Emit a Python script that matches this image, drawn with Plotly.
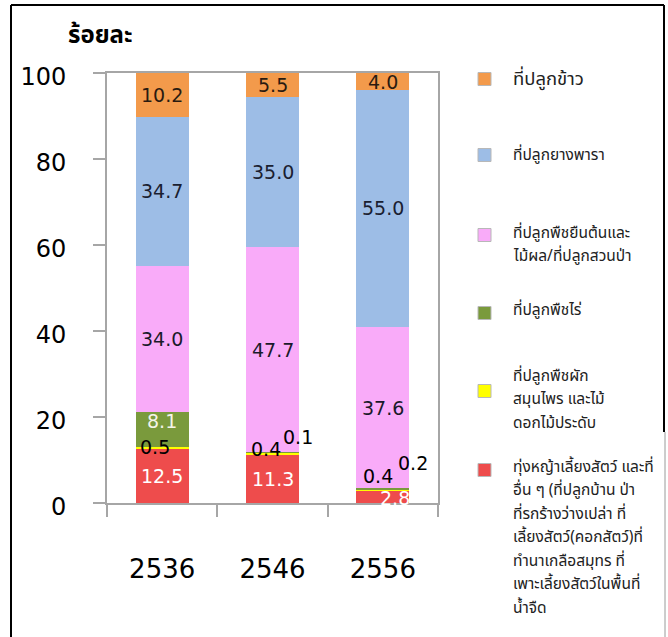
import plotly.graph_objects as go

# ---------------- data ----------------
years = ["2536", "2546", "2556"]
series_names = [
    "ทุ่งหญ้าเลี้ยงสัตว์ และที่<br>อื่น ๆ (ที่ปลูกบ้าน ป่า<br>ที่รกร้างว่างเปล่า ที่<br>เลี้ยงสัตว์(คอกสัตว์)ที่<br>ทำนาเกลือสมุทร ที่<br>เพาะเลี้ยงสัตว์ในพื้นที่<br>น้ำจืด",
    "ที่ปลูกพืชผัก<br>สมุนไพร และไม้<br>ดอกไม้ประดับ",
    "ที่ปลูกพืชไร่",
    "ที่ปลูกพืชยืนต้นและ<br>ไม้ผล/ที่ปลูกสวนป่า",
    "ที่ปลูกยางพารา",
    "ที่ปลูกข้าว",
]
grass_other = [12.5, 11.3, 2.8]
vegetables = [0.5, 0.4, 0.4]
field_crops = [8.1, 0.1, 0.2]
perennial = [34.0, 47.7, 37.6]
rubber = [34.7, 35.0, 55.0]
rice = [10.2, 5.5, 4.0]
series_values = [grass_other, vegetables, field_crops, perennial, rubber, rice]
y_ticks = [0, 20, 40, 60, 80, 100]
y_title = "ร้อยละ"

# ---------------- styles ----------------
colors = ["#EE4C4C", "#FFFF00", "#7A9A3C", "#F9ABF9", "#9DBDE6", "#F39A4B"]
label_colors = ["white", "black", "#f4f4e8", "#1a1a2a", "#1a2030", "#2a1a10"]
# pixel nudges for labels of thin segments: (series index, year index) -> (dx, dy)
label_nudge = {
    (1, 0): (-7, 1), (2, 0): (0, 9), (1, 1): (-7, 5), (2, 1): (25, 15),
    (1, 2): (-5, 14), (2, 2): (30, 26), (0, 2): (12, -1),
}
small_label_color = "black"

W, H = 668, 637
L, R, T, B = 107, 230, 73, 134
PW, PH = W - L - R, H - T - B


def px(x):
    return (x - L) / PW


def py(y):
    return (H - B - y) / PH


FONT = "DejaVu Sans, Verdana, sans-serif"
THAI = "Tahoma, 'Noto Sans Thai', Leelawadee, sans-serif"

fig = go.Figure()
for i, (name, vals) in enumerate(zip(series_names, series_values)):
    fig.add_trace(go.Bar(
        x=years, y=vals, name=name, marker=dict(color=colors[i], line=dict(width=0)),
        showlegend=False, hoverinfo="x+y",
    ))

annotations = []
# data labels
for j, yr in enumerate(years):
    base = 0.0
    for i, vals in enumerate(series_values):
        v = vals[j]
        mid = base + v / 2
        base += v
        dx, dy = label_nudge.get((i, j), (0, 0))
        col = label_colors[i]
        if (i, j) in label_nudge and i == 1 or (i == 2 and v < 1):
            col = small_label_color
        annotations.append(dict(
            x=j, y=mid, xref="x", yref="y", text=f"{v:.1f}", showarrow=False,
            xshift=dx, yshift=dy, font=dict(family=FONT, size=19, color=col),
        ))

# manual legend (top to bottom order = reversed series)
legend_marker_y = [79, 155, 235, 313, 391, 470]
legend_text_y = [79, 155, 233, 310, 376, 467]
legend_font = [18.5, 15.5, 15.5, 15.5, 15.5, 15.5]
line_gap = 23.5
shapes = []
for k, idx in enumerate(reversed(range(len(series_names)))):
    cy = legend_marker_y[k]
    shapes.append(dict(
        type="rect", xref="paper", yref="paper",
        x0=px(478), x1=px(491), y0=py(cy + 6.5), y1=py(cy - 6.5),
        fillcolor=colors[idx], line=dict(color="#b8b8b8", width=1), layer="above",
    ))
    lines = series_names[idx].split("<br>")
    for n, line in enumerate(lines):
        annotations.append(dict(
            x=px(511), y=py(legend_text_y[k] + n * line_gap), xref="paper", yref="paper",
            text=line, showarrow=False, xanchor="left", yanchor="middle",
            font=dict(family=THAI, size=legend_font[k], color="#222222"),
        ))

# title
annotations.append(dict(
    x=px(66), y=py(36), xref="paper", yref="paper", text=f"<b>{y_title}</b>",
    showarrow=False, xanchor="left", yanchor="middle",
    font=dict(family=THAI, size=24, color="black"),
))

# outer frame
shapes += [
    dict(type="line", xref="paper", yref="paper", x0=px(11), x1=px(11), y0=py(5), y1=py(640),
         line=dict(color="black", width=2)),
    dict(type="line", xref="paper", yref="paper", x0=px(11), x1=px(664), y0=py(5), y1=py(5),
         line=dict(color="black", width=2)),
    dict(type="line", xref="paper", yref="paper", x0=px(664), x1=px(664), y0=py(5), y1=py(432),
         line=dict(color="black", width=2)),
    dict(type="line", xref="paper", yref="paper", x0=px(665), x1=px(665), y0=py(432), y1=py(640),
         line=dict(color="#9a9a9a", width=1)),
]

fig.update_layout(
    width=W, height=H, margin=dict(l=L, r=R, t=T, b=B, pad=0),
    barmode="stack", bargap=0.52,
    plot_bgcolor="white", paper_bgcolor="white",
    annotations=annotations, shapes=shapes,
    showlegend=False,
)
fig.update_xaxes(
    type="category", range=[-0.5, 2.5], showline=True, linecolor="#a6a6a6", linewidth=2,
    mirror=True, ticks="outside", tickson="boundaries", ticklen=12, tickcolor="#a6a6a6",
    tickwidth=2, tickfont=dict(family=FONT, size=26, color="black"), ticklabelstandoff=42,
    showgrid=False,
)
fig.update_yaxes(
    range=[0, 100], tickvals=y_ticks, showline=True, linecolor="#a6a6a6", linewidth=2,
    mirror=True, ticks="outside", ticklen=12, tickcolor="#a6a6a6", tickwidth=2,
    tickfont=dict(family=FONT, size=24, color="black"), ticklabelstandoff=22,
    ticklabelshift=4, showgrid=False, zeroline=False,
)

fig.write_html(
    "out.html",
    config={"displayModeBar": False},
    post_script="document.body.style.margin='0';document.body.style.overflow='hidden';",
)
